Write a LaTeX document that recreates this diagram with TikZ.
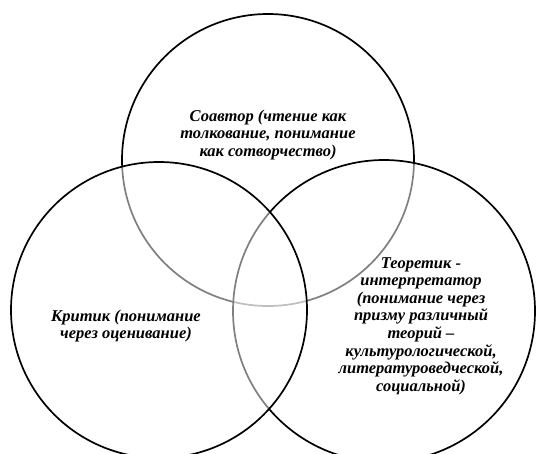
\documentclass[tikz,border=0pt]{standalone}
\usepackage{fontspec}
\setmainfont{Liberation Serif}
\tikzset{
  circ/.style={line width=1.7pt, draw=black},
  veil/.style={circ, fill=white, fill opacity=0.5},
  lbl/.style={align=center, font=\fontsize{16.5}{17.6}\selectfont\bfseries\itshape, inner sep=0pt}
}
\begin{document}
\begin{tikzpicture}[x=1pt,y=-1pt]
\useasboundingbox (0,0) rectangle (538,453);
\clip (0,0) rectangle (538,453);
\fill[white] (0,0) rectangle (538,453);
\node[circle, minimum size=292pt, circ] (top) at (268,160) {};
\node[circle, minimum size=302pt, veil] (right) at (384,311) {};
\node[circle, minimum size=296pt, veil] (left) at (159,310) {};
\node[lbl] (t1) at (268,135) {Соавтор (чтение как\\толкование, понимание\\как сотворчество)};
\node[lbl] (t2) at (126,326) {Критик (понимание\\через оценивание)};
\node[lbl] (t3) at (421,326) {Теоретик -\\интерпретатор\\(понимание через\\призму различный\\теорий –\\культурологической,\\литературоведческой,\\социальной)};
\end{tikzpicture}
\end{document}
